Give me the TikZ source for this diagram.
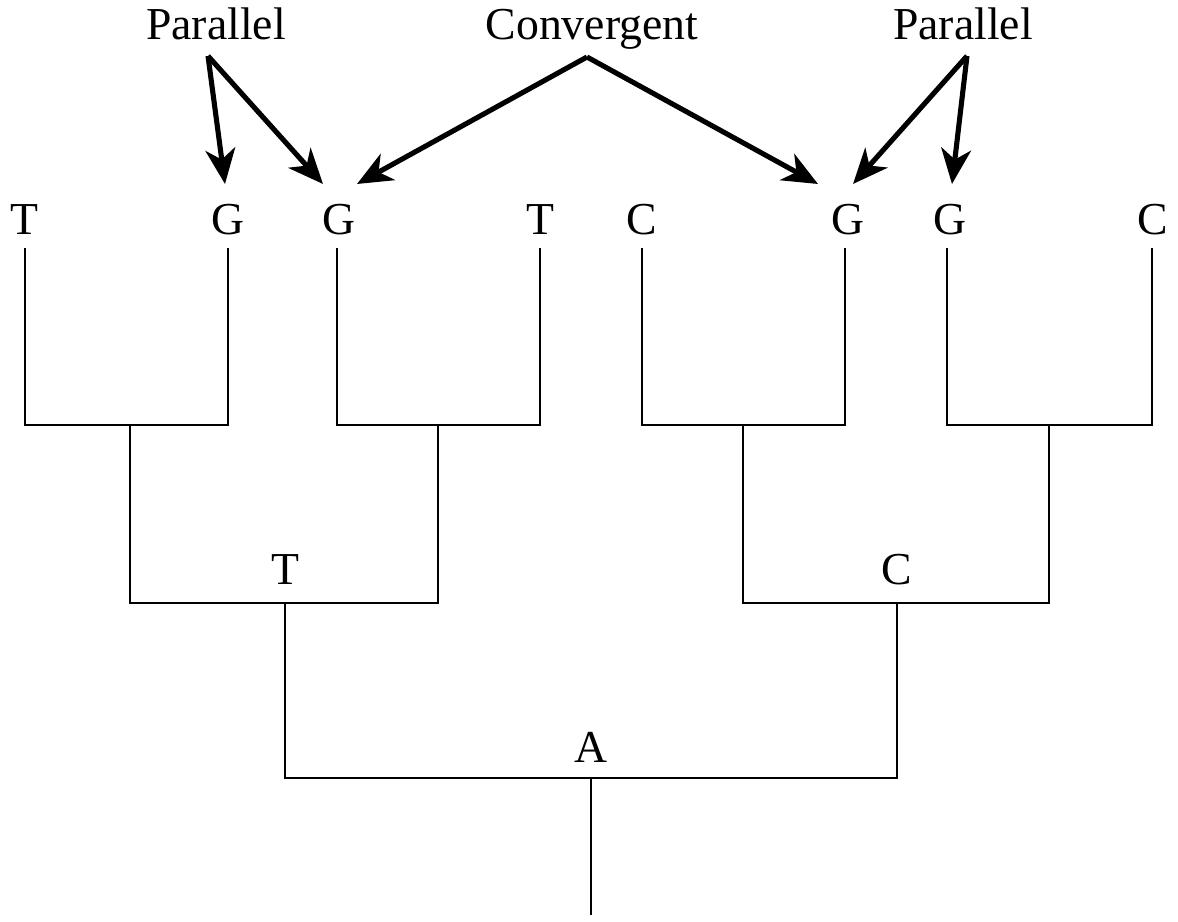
\documentclass[tikz,border=0pt]{standalone}
\usepackage{fontspec}
\setmainfont{Liberation Serif}
\usetikzlibrary{arrows.meta}
\begin{document}
\begin{tikzpicture}[x=0.01cm,y=-0.01cm,
  lab/.style={font=\fontsize{13}{15}\selectfont, inner sep=0pt, anchor=base},
  branch/.style={line width=0.65pt},
  arr/.style={line width=1.45pt, -{Stealth[length=10pt,width=8.5pt,inset=3pt]}}]
\useasboundingbox (0,0) rectangle (1178,922);
% top labels
\node[lab] (p1) at (216,40) {Parallel};
\node[lab] (cv) at (592,40) {Convergent};
\node[lab] (p2) at (963,40) {Parallel};
% leaves
\node[lab] (l1) at (24,235) {T};
\node[lab] (l2) at (228,235) {G};
\node[lab] (l3) at (339,235) {G};
\node[lab] (l4) at (540,235) {T};
\node[lab] (l5) at (642,235) {C};
\node[lab] (l6) at (848,235) {G};
\node[lab] (l7) at (950,235) {G};
\node[lab] (l8) at (1153,235) {C};
% leaf line tops
\coordinate (s1) at (25,248);
\coordinate (s2) at (228,248);
\coordinate (s3) at (337,248);
\coordinate (s4) at (540,248);
\coordinate (s5) at (642,248);
\coordinate (s6) at (845,248);
\coordinate (s7) at (947,248);
\coordinate (s8) at (1152,248);
% cherries
\coordinate (h1) at (130,425);
\coordinate (h2) at (438,425);
\coordinate (h3) at (743,425);
\coordinate (h4) at (1049,425);
\coordinate (n1) at (285,603);
\coordinate (n2) at (897,603);
\coordinate (r) at (591,778);
\coordinate (root) at (591,915);
\draw[branch] (s1) |- (h1) -| (s2);
\draw[branch] (s3) |- (h2) -| (s4);
\draw[branch] (s5) |- (h3) -| (s6);
\draw[branch] (s7) |- (h4) -| (s8);
\draw[branch] (h1) |- (n1) -| (h2);
\draw[branch] (h3) |- (n2) -| (h4);
\draw[branch] (n1) |- (r) -| (n2);
\draw[branch] (r) -- (root);
% internal labels
\node[lab] (it) at (285,585) {T};
\node[lab] (ic) at (897,585) {C};
\node[lab] (ia) at (591,763) {A};
% arrows
\coordinate (a1) at (208,56);
\coordinate (a2) at (587,57);
\coordinate (a3) at (967,56);
\coordinate (t2) at (225,184);
\coordinate (t3a) at (323,184);
\coordinate (t3b) at (357,184);
\coordinate (t6a) at (818,184);
\coordinate (t6b) at (853,184);
\coordinate (t7) at (952,184);
\draw[arr] (a1) -- (t2);
\draw[arr] (a1) -- (t3a);
\draw[arr] (a2) -- (t3b);
\draw[arr] (a2) -- (t6a);
\draw[arr] (a3) -- (t6b);
\draw[arr] (a3) -- (t7);
\end{tikzpicture}
\end{document}
